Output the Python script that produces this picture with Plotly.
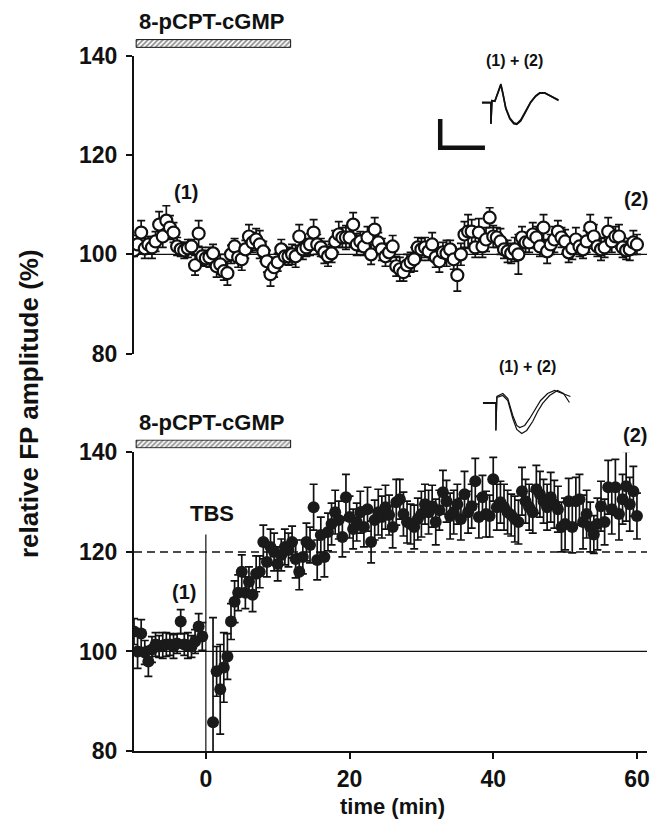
import plotly.graph_objects as go

# ---------------- data ----------------
# top panel: 8-pCPT-cGMP alone (open circles), time in min
t_top = [-10.0, -9.5, -9.0, -8.5, -8.0, -7.5, -7.0, -6.5, -6.0, -5.5,
         -5.0, -4.5, -4.0, -3.5, -3.0, -2.5, -2.0, -1.5, -1.0, -0.5,
         0.0, 0.5, 1.0, 1.5, 2.0, 2.5, 3.0, 3.5, 4.0, 4.5,
         5.0, 5.5, 6.0, 6.5, 7.0, 7.5, 8.0, 8.5, 9.0, 9.5,
         10.0, 10.5, 11.0, 11.5, 12.0, 12.5, 13.0, 13.5, 14.0, 14.5,
         15.0, 15.5, 16.0, 16.5, 17.0, 17.5, 18.0, 18.5, 19.0, 19.5,
         20.0, 20.5, 21.0, 21.5, 22.0, 22.5, 23.0, 23.5, 24.0, 24.5,
         25.0, 25.5, 26.0, 26.5, 27.0, 27.5, 28.0, 28.5, 29.0, 29.5,
         30.0, 30.5, 31.0, 31.5, 32.0, 32.5, 33.0, 33.5, 34.0, 34.5,
         35.0, 35.5, 36.0, 36.5, 37.0, 37.5, 38.0, 38.5, 39.0, 39.5,
         40.0, 40.5, 41.0, 41.5, 42.0, 42.5, 43.0, 43.5, 44.0, 44.5,
         45.0, 45.5, 46.0, 46.5, 47.0, 47.5, 48.0, 48.5, 49.0, 49.5,
         50.0, 50.5, 51.0, 51.5, 52.0, 52.5, 53.0, 53.5, 54.0, 54.5,
         55.0, 55.5, 56.0, 56.5, 57.0, 57.5, 58.0, 58.5, 59.0, 59.5,
         60.0]
fp_top = [100.8, 102.0, 104.4, 101.2, 102.0, 101.4, 102.6, 106.0, 103.6, 106.8,
          105.4, 104.4, 101.6, 101.0, 100.8, 101.2, 101.6, 97.8, 104.2, 99.6,
          99.2, 99.4, 100.2, 97.6, 98.0, 96.6, 96.2, 100.0, 101.6, 99.4,
          99.0, 101.0, 103.6, 102.4, 103.0, 102.0, 100.6, 98.6, 96.0, 97.4,
          98.4, 101.0, 99.6, 99.6, 100.0, 99.6, 103.6, 101.0, 101.4, 102.0,
          104.4, 102.0, 101.4, 100.4, 99.6, 100.2, 102.6, 104.0, 103.4, 103.4,
          103.4, 106.0, 102.0, 102.6, 101.6, 103.4, 100.0, 105.0, 102.4, 101.0,
          99.6, 100.4, 101.6, 97.6, 97.0, 96.4, 97.8, 98.4, 99.0, 101.4,
          101.0, 101.4, 100.6, 102.0, 99.4, 98.6, 100.4, 100.2, 101.0, 99.0,
          95.8, 100.0, 104.0, 104.6, 104.6, 101.4, 104.4, 101.6, 103.0, 107.4,
          103.6, 103.4, 102.6, 101.0, 100.6, 100.2, 101.0, 100.0, 103.4, 102.4,
          102.4, 104.0, 103.4, 101.6, 105.4, 100.6, 102.0, 103.0, 104.6, 103.4,
          102.6, 100.4, 101.2, 103.0, 101.6, 101.0, 102.6, 105.4, 103.6, 101.6,
          101.0, 101.4, 104.6, 102.6, 103.6, 103.6, 101.4, 100.8, 101.0, 102.4,
          102.0]
sem_top = [1.2, 1.8, 2.4, 2.0, 1.6, 2.2, 2.0, 2.6, 2.2, 3.0,
           2.4, 2.0, 1.8, 1.4, 1.6, 1.8, 1.4, 2.0, 2.6, 1.8,
           1.6, 2.0, 1.8, 2.2, 2.0, 1.8, 2.4, 1.8, 1.6, 2.0,
           2.2, 1.8, 2.4, 2.0, 2.2, 2.8, 2.0, 2.2, 2.4, 2.0,
           1.8, 2.0, 1.6, 1.8, 2.0, 2.2, 2.4, 2.0, 1.8, 2.2,
           2.6, 2.0, 1.8, 2.2, 2.0, 1.8, 2.2, 2.6, 2.0, 2.4,
           2.0, 2.4, 2.2, 2.0, 1.8, 2.2, 2.0, 2.4, 2.0, 2.2,
           2.0, 1.8, 2.2, 2.0, 2.4, 1.8, 2.2, 2.0, 2.4, 2.0,
           2.2, 2.0, 1.8, 2.4, 2.0, 2.2, 2.0, 2.6, 1.8, 2.0,
           3.2, 2.2, 2.6, 3.4, 2.4, 2.0, 2.8, 2.2, 2.4, 2.0,
           2.2, 2.0, 2.6, 1.8, 2.2, 2.0, 2.4, 4.0, 2.2, 2.0,
           2.0, 2.4, 2.2, 2.0, 2.6, 2.4, 2.0, 2.6, 2.2, 2.0,
           2.4, 2.0, 2.2, 2.4, 2.0, 1.8, 2.2, 2.6, 2.4, 2.0,
           2.2, 2.0, 2.8, 2.2, 2.0, 2.4, 2.0, 1.8, 2.2, 2.4,
           2.0]

# bottom panel: 8-pCPT-cGMP + TBS (filled circles)
t_bot = [-10.0, -9.5, -9.0, -8.5, -8.0, -7.5, -7.0, -6.5, -6.0, -5.5,
         -5.0, -4.5, -4.0, -3.5, -3.0, -2.5, -2.0, -1.5, -1.0, -0.5,
         1.0, 1.5, 2.0, 2.5, 3.0, 3.5, 4.0, 4.5, 5.0, 5.5,
         6.0, 6.5, 7.0, 7.5, 8.0, 8.5, 9.0, 9.5, 10.0, 10.5,
         11.0, 11.5, 12.0, 12.5, 13.0, 13.5, 14.0, 14.5, 15.0, 15.5,
         16.0, 16.5, 17.0, 17.5, 18.0, 18.5, 19.0, 19.5, 20.0, 20.5,
         21.0, 21.5, 22.0, 22.5, 23.0, 23.5, 24.0, 24.5, 25.0, 25.5,
         26.0, 26.5, 27.0, 27.5, 28.0, 28.5, 29.0, 29.5, 30.0, 30.5,
         31.0, 31.5, 32.0, 32.5, 33.0, 33.5, 34.0, 34.5, 35.0, 35.5,
         36.0, 36.5, 37.0, 37.5, 38.0, 38.5, 39.0, 39.5, 40.0, 40.5,
         41.0, 41.5, 42.0, 42.5, 43.0, 43.5, 44.0, 44.5, 45.0, 45.5,
         46.0, 46.5, 47.0, 47.5, 48.0, 48.5, 49.0, 49.5, 50.0, 50.5,
         51.0, 51.5, 52.0, 52.5, 53.0, 53.5, 54.0, 54.5, 55.0, 55.5,
         56.0, 56.5, 57.0, 57.5, 58.0, 58.5, 59.0, 59.5, 60.0]
fp_bot = [104.0, 100.0, 103.6, 99.8, 98.0, 100.4, 101.4, 101.0, 101.2, 101.4,
          101.4, 101.0, 101.6, 106.0, 101.4, 101.2, 101.0, 102.0, 105.0, 103.0,
          85.8, 96.0, 92.4, 96.8, 99.0, 106.0, 110.0, 111.8, 116.0, 111.8,
          114.0, 111.4, 115.6, 116.0, 122.0, 118.0, 121.0, 120.0, 117.6, 119.4,
          121.0, 120.4, 122.0, 118.6, 116.0, 119.0, 122.0, 121.4, 129.0, 118.4,
          123.4, 119.0, 124.0, 125.6, 128.0, 126.4, 123.0, 131.0, 127.0, 124.6,
          126.0, 128.0, 125.0, 128.6, 122.0, 126.4, 128.0, 127.0, 129.0, 127.4,
          125.0, 130.0, 130.6, 127.6, 126.0, 125.6, 125.0, 126.6, 127.6, 129.6,
          128.0, 129.2, 126.0, 128.4, 132.0, 130.2, 127.2, 128.0, 129.6, 126.6,
          131.6, 128.0, 129.2, 134.2, 127.0, 131.0, 127.6, 127.2, 134.6, 129.0,
          130.0, 129.0, 128.0, 127.4, 126.6, 126.0, 132.2, 130.2, 129.0, 128.0,
          132.6, 131.6, 130.2, 129.0, 131.0, 129.6, 128.6, 125.0, 125.6, 130.2,
          125.0, 130.2, 130.6, 126.0, 127.6, 125.0, 123.5, 125.6, 129.2, 126.0,
          133.0, 128.6, 133.0, 127.6, 130.6, 133.2, 129.6, 132.2, 127.2]
sem_bot = [2.6, 3.4, 2.8, 2.4, 3.0, 2.6, 2.4, 2.2, 2.6, 2.4,
           2.2, 2.4, 2.0, 2.4, 2.2, 2.6, 2.2, 2.4, 2.6, 2.8,
           21.0, 5.0, 9.0, 7.0, 4.6, 3.6, 4.2, 3.6, 3.4, 3.2,
           3.0, 3.4, 3.6, 3.2, 3.4, 3.0, 3.6, 3.8, 3.4, 3.2,
           3.6, 3.4, 3.2, 3.8, 3.6, 3.4, 3.8, 3.6, 4.6, 4.0,
           3.6, 4.0, 3.8, 4.2, 4.4, 3.8, 4.0, 4.6, 4.2, 4.0,
           3.8, 4.2, 4.0, 4.4, 4.2, 4.0, 4.6, 4.2, 4.4, 4.0,
           4.2, 4.6, 4.0, 4.4, 4.2, 4.0, 4.4, 4.2, 4.6, 4.0,
           4.4, 4.2, 4.6, 4.0, 4.4, 4.2, 4.6, 4.4, 4.0, 4.2,
           4.6, 4.2, 4.4, 4.6, 4.2, 4.4, 4.6, 4.2, 4.4, 4.6,
           4.2, 4.6, 4.4, 4.2, 4.6, 4.4, 4.8, 4.4, 4.6, 4.2,
           4.8, 4.6, 4.4, 4.6, 5.0, 4.8, 4.6, 5.0, 5.2, 4.6,
           5.2, 4.8, 5.0, 5.4, 4.8, 5.0, 3.8, 5.2, 5.0, 4.6,
           5.4, 5.0, 5.6, 5.2, 5.0, 7.0, 5.4, 5.0, 4.6]

drug_window = [-9.7, 11.8]      # 8-pCPT-cGMP application (min)
tbs_time = 0.0
baseline_level = 100
ltp_threshold = 120

y_ticks = [80, 100, 120, 140]
x_ticks = [0, 20, 40, 60]

# inset field potential samples (ms, mV)
wave_top_t = [0, 0.8, 0.9, 0.9, 1.0, 1.3, 1.6, 1.9, 2.1, 2.4, 2.8, 3.2, 3.5, 3.9, 4.4, 4.9, 5.4, 5.8, 6.3, 6.9, 7.3, 7.7]
wave_top_1 = [0, 0, 0, -1.05, 0.1, 0.1, 0.5, 0.95, 0.5, -0.25, -0.75, -1.0, -1.05, -0.85, -0.4, 0.05, 0.35, 0.5, 0.5, 0.35, 0.25, 0.15]
wave_top_2 = [0.03, 0.03, 0.03, -1.05, 0.12, 0.08, 0.45, 0.9, 0.45, -0.3, -0.8, -1.05, -1.08, -0.9, -0.45, 0.02, 0.33, 0.48, 0.5, 0.33, 0.22, 0.12]
wave_bot_t1 = [0, 1.2, 1.3, 1.3, 1.4, 2.0, 2.5, 3.0, 3.4, 3.7, 4.2, 4.7, 5.3, 5.8, 6.5, 7.2, 8.0, 8.8]
wave_bot_1 = [0, 0, 0, -1.4, 0.3, 0.45, 0.2, -0.65, -1.15, -1.25, -1.15, -0.8, -0.3, 0.1, 0.45, 0.6, 0.45, 0.3]
wave_bot_t2 = [0, 1.2, 1.3, 1.3, 1.4, 2.0, 2.5, 3.0, 3.4, 3.9, 4.4, 5.0, 5.5, 6.0, 6.7, 7.5, 8.1, 8.7]
wave_bot_2 = [-0.05, -0.05, -0.05, -1.4, 0.25, 0.35, 0.1, -0.8, -1.35, -1.55, -1.4, -0.95, -0.45, -0.05, 0.35, 0.6, 0.45, 0.0]
scale_ms = 4.5
scale_mv = 1.45

# ---------------- layout helpers ----------------
OFF = 8                       # page body margin of the browser
W, H = 660 - OFF, 832 - OFF
ML, MR, MT, MB = 134 - OFF, 10, 30 - OFF, 81
PW, PH = W - ML - MR, H - MT - MB
XR = [-10, 61.4]


def py(y):          # screenshot y -> paper
    return (H - MB - (y - OFF)) / PH


def pxp(x):         # screenshot x -> paper
    return (x - OFF - ML) / PW


FONT = "Liberation Sans, Arial, sans-serif"
BLACK = "#111111"

fig = go.Figure()

# top panel
fig.add_trace(go.Scatter(
    x=t_top, y=fp_top, xaxis="x2", yaxis="y2", mode="markers",
    marker=dict(symbol="circle", size=12, color="white", line=dict(color=BLACK, width=2.2)),
    error_y=dict(type="data", array=sem_top, color=BLACK, thickness=1.7, width=4),
    showlegend=False, hoverinfo="skip"))

# bottom panel
fig.add_trace(go.Scatter(
    x=t_bot, y=fp_bot, xaxis="x", yaxis="y", mode="markers",
    marker=dict(symbol="circle", size=12, color="#1a1a1a", line=dict(width=0)),
    error_y=dict(type="data", array=sem_bot, color=BLACK, thickness=1.7, width=4),
    showlegend=False, hoverinfo="skip"))

# drug bars (hatched)
for ya in ["y5", "y6"]:
    fig.add_trace(go.Scatter(
        x=[drug_window[0], drug_window[1], drug_window[1], drug_window[0], drug_window[0]],
        y=[0, 0, 1, 1, 0], xaxis="x", yaxis=ya, mode="lines", fill="toself",
        fillcolor="white",
        fillpattern=dict(shape="/", fgcolor="#222222", bgcolor="white", size=3.5, solidity=0.5),
        line=dict(color=BLACK, width=1), showlegend=False, hoverinfo="skip"))

# inset traces
fig.add_trace(go.Scatter(x=wave_top_t, y=wave_top_1, xaxis="x3", yaxis="y3", mode="lines",
                         line=dict(color=BLACK, width=1.6), showlegend=False, hoverinfo="skip"))
fig.add_trace(go.Scatter(x=wave_top_t, y=wave_top_2, xaxis="x3", yaxis="y3", mode="lines",
                         line=dict(color=BLACK, width=1.6), showlegend=False, hoverinfo="skip"))
fig.add_trace(go.Scatter(x=wave_bot_t1, y=wave_bot_1, xaxis="x4", yaxis="y4", mode="lines",
                         line=dict(color=BLACK, width=1.2), showlegend=False, hoverinfo="skip"))
fig.add_trace(go.Scatter(x=wave_bot_t2, y=wave_bot_2, xaxis="x4", yaxis="y4", mode="lines",
                         line=dict(color=BLACK, width=1.2), showlegend=False, hoverinfo="skip"))

tickfont = dict(family=FONT, size=23, color=BLACK, weight="bold")
yax_common = dict(range=[80, 140], tickvals=y_ticks, showline=True, linecolor=BLACK, linewidth=2,
                  ticks="outside", ticklen=6, tickwidth=2, tickcolor=BLACK, showgrid=False,
                  zeroline=False, tickfont=tickfont, ticklabelstandoff=4)

hidden = dict(visible=False, showgrid=False, zeroline=False)

fig.update_layout(
    width=W, height=H, margin=dict(l=ML, r=MR, t=MT, b=MB),
    paper_bgcolor="white", plot_bgcolor="rgba(0,0,0,0)",
    xaxis=dict(domain=[0, 1], range=XR, anchor="y", tickvals=x_ticks, showline=True,
               linecolor=BLACK, linewidth=2, ticks="outside", ticklen=6, tickwidth=2,
               tickcolor=BLACK, showgrid=False, zeroline=False, tickfont=tickfont,
               ticklabelstandoff=0),
    yaxis=dict(domain=[0, py(452)], anchor="x", **yax_common),
    xaxis2=dict(domain=[0, 1], range=XR, anchor="y2", **hidden),
    yaxis2=dict(domain=[py(353), py(55)], anchor="x2", **yax_common),
    yaxis5=dict(domain=[py(47), py(38)], range=[-0.08, 1.08], anchor="x", **hidden),
    yaxis6=dict(domain=[py(448), py(439)], range=[-0.08, 1.08], anchor="x", **hidden),
    xaxis3=dict(domain=[pxp(436), pxp(570)], range=[-4.8, 8.6], anchor="y3", **hidden),
    yaxis3=dict(domain=[py(152), py(75)], range=[-2.5, 1.35], anchor="x3", **hidden),
    xaxis4=dict(domain=[pxp(478), pxp(582)], range=[-0.7, 9.7], anchor="y4", **hidden),
    yaxis4=dict(domain=[py(440), py(383)], range=[-1.9, 0.95], anchor="x4", **hidden),
)

shapes = [
    dict(type="line", xref="paper", x0=0, x1=1, yref="y2", y0=baseline_level, y1=baseline_level,
         line=dict(color=BLACK, width=1.2), layer="below"),
    dict(type="line", xref="paper", x0=0, x1=1, yref="y", y0=baseline_level, y1=baseline_level,
         line=dict(color=BLACK, width=1.2), layer="below"),
    dict(type="line", xref="paper", x0=0, x1=1, yref="y", y0=ltp_threshold, y1=ltp_threshold,
         line=dict(color=BLACK, width=1.4, dash="8px,5px"), layer="below"),
    dict(type="line", xref="x", x0=tbs_time, x1=tbs_time, yref="y", y0=80, y1=123.5,
         line=dict(color=BLACK, width=1.2), layer="below"),
    # scale bar for top inset
    dict(type="path", xref="x3", yref="y3",
         path=f"M -4.2,{-2.25 + scale_mv} L -4.2,-2.25 L {-4.2 + scale_ms},-2.25",
         line=dict(color=BLACK, width=4.5)),
]
fig.update_layout(shapes=shapes)


def ann(text, x, y, size, xref="paper", yref="paper", xanchor="center", yanchor="middle", angle=0):
    return dict(text=text, x=x, y=y, xref=xref, yref=yref, xanchor=xanchor, yanchor=yanchor,
                showarrow=False, textangle=angle,
                font=dict(family=FONT, size=size, color=BLACK, weight="bold"))


annotations = [
    ann("8-pCPT-cGMP", drug_window[0] + 0.05, py(20.5), 22, xref="x", xanchor="left"),
    ann("8-pCPT-cGMP", drug_window[0] + 0.05, py(422), 22, xref="x", xanchor="left"),
    ann("(1)", -2.7, py(191), 20, xref="x"),
    ann("(2)", 59.9, py(198), 20, xref="x"),
    ann("(1) + (2)", 43.0, py(60), 16, xref="x"),
    ann("(1)", -3.1, py(592), 20, xref="x"),
    ann("(2)", 59.7, py(435), 20, xref="x"),
    ann("(1) + (2)", 44.8, py(366), 16, xref="x"),
    ann("TBS", 0.8, py(513), 22, xref="x"),
    ann("time (min)", pxp(394), py(807), 22),
    ann("relative FP amplitude (%)", pxp(29), py(403), 26, angle=-90),
]
fig.update_layout(annotations=annotations)

fig.write_html("out.html")
